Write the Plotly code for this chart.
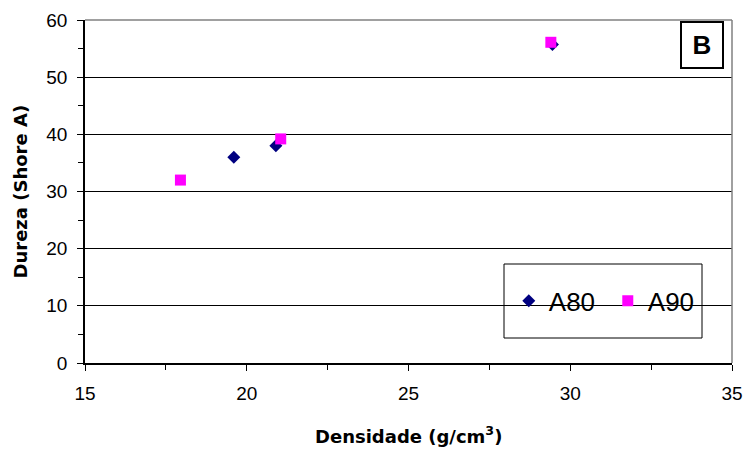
import plotly.graph_objects as go

a80_x = [19.6, 20.9, 29.45]
a80_y = [36.0, 38.0, 55.7]
a90_x = [17.95, 21.05, 29.4]
a90_y = [32.0, 39.2, 56.1]

x_title = "<b>Densidade (g/cm<sup>3</sup>)</b>"
y_title = "<b>Dureza (Shore A)</b>"
panel_label = "<b>B</b>"

fig = go.Figure()
fig.add_trace(go.Scatter(x=a80_x, y=a80_y, mode="markers", name="A80",
                         marker=dict(symbol="diamond", size=10, color="#000080")))
fig.add_trace(go.Scatter(x=a90_x, y=a90_y, mode="markers", name="A90",
                         marker=dict(symbol="square", size=11, color="#FF00FF")))

font_family = "Liberation Sans, Arial, sans-serif"
title_family = "DejaVu Sans, Liberation Sans, sans-serif"
fig.update_layout(
    width=748, height=452,
    margin=dict(l=85, r=16, t=20, b=89),
    plot_bgcolor="white", paper_bgcolor="white",
    font=dict(family=font_family, color="black", size=19),
    xaxis=dict(range=[15, 35], dtick=5, showgrid=False, zeroline=False, automargin=False,
               showline=True, linecolor="black", linewidth=1.5,
               ticks="outside", ticklen=6, tickcolor="black", tickwidth=1,
               minor=dict(dtick=2.5, ticks="outside", ticklen=5, tickcolor="black"),
               tickfont=dict(size=19), ticklabelstandoff=6),
    yaxis=dict(range=[0, 60], dtick=10, showgrid=True, gridcolor="black", gridwidth=1,
               zeroline=False, showline=True, linecolor="black", linewidth=1.5, automargin=False,
               ticks="outside", ticklen=6, tickcolor="black", tickwidth=1,
               minor=dict(dtick=5, ticks="outside", ticklen=5, tickcolor="black", showgrid=False),
               tickfont=dict(size=19), ticklabelstandoff=6),
    legend=dict(orientation="h", x=0.655, y=0.181, xanchor="left", yanchor="middle",
                bgcolor="rgba(0,0,0,0)", borderwidth=0,
                font=dict(size=26), itemwidth=30, entrywidth=54),
    showlegend=True,
    shapes=[
        dict(type="line", xref="paper", yref="paper", x0=0, x1=1, y0=1, y1=1,
             line=dict(color="#808080", width=1.5)),
        dict(type="line", xref="paper", yref="paper", x0=1, x1=1, y0=0, y1=1,
             line=dict(color="#808080", width=1.5)),
        dict(type="rect", xref="paper", yref="paper",
             x0=(504 - 85) / 647, x1=(702 - 85) / 647,
             y0=(363 - 338) / 343, y1=(363 - 264) / 343,
             line=dict(color="black", width=1), fillcolor="white", layer="below"),
    ],
    annotations=[
        dict(text=panel_label, xref="paper", yref="paper", x=0.988, y=0.998,
             xanchor="right", yanchor="top", showarrow=False,
             font=dict(size=26, color="black"), bordercolor="black", borderwidth=2,
             borderpad=4, bgcolor="white", width=32, height=36),
        dict(text=x_title, xref="paper", yref="paper", x=0.5, y=-72 / 343,
             xanchor="center", yanchor="middle", showarrow=False,
             font=dict(size=18, color="black", family=title_family)),
        dict(text=y_title, xref="paper", yref="paper", x=-65 / 647, y=0.5,
             xanchor="center", yanchor="middle", showarrow=False, textangle=-90,
             font=dict(size=18, color="black", family=title_family)),
    ],
)

fig.write_html("out.html", config={"displayModeBar": False},
               post_script="document.body.style.margin='0';")
